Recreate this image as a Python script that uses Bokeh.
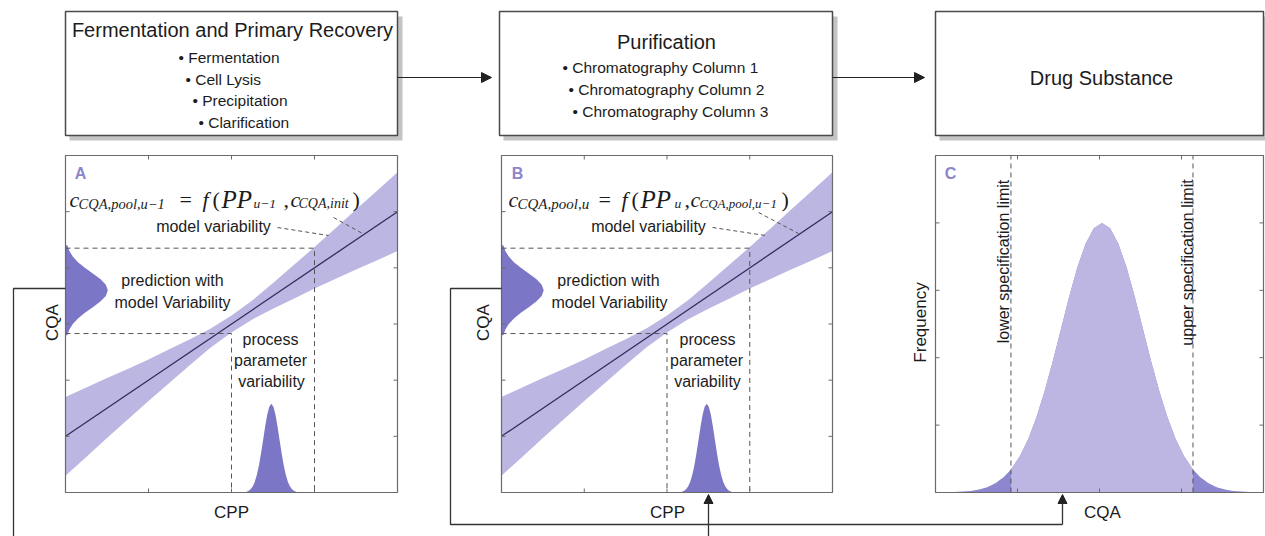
import numpy as np
from bokeh.plotting import figure
from bokeh.models import Range1d, Arrow, NormalHead
from bokeh.core.properties import value
from bokeh.embed import file_html
from bokeh.resources import INLINE

# ---------------- data ----------------
# Panels A and B : CPP (0-4) vs CQA (0-6)
cpp_ticks = [1, 2, 3]
cqa_ticks = [1, 2, 3, 4, 5]
fit_cpp = [0.0, 4.0]
fit_cqa = [1.0, 5.0]
band_cpp = [0, 0.25, 0.5, 0.75, 1.0, 1.25, 1.5, 1.75, 2.0, 2.25, 2.5, 2.75, 3.0, 3.25, 3.5, 3.75, 4.0]
band_upper = [1.70, 1.87, 2.04, 2.20, 2.37, 2.55, 2.73, 2.92, 3.15, 3.42, 3.73, 4.05, 4.37, 4.70, 5.04, 5.37, 5.70]
band_lower = [0.30, 0.63, 0.97, 1.30, 1.63, 1.95, 2.27, 2.58, 2.85, 3.08, 3.27, 3.45, 3.63, 3.80, 3.97, 4.13, 4.30]
guide_cpp = [2.0, 3.0]
guide_cqa = [2.83, 4.35]
pred_cqa = [2.8, 2.9, 3.0, 3.1, 3.2, 3.3, 3.4, 3.5, 3.6, 3.7, 3.8, 3.9, 4.0, 4.1, 4.2, 4.3, 4.4]
pred_density = [0.022, 0.047, 0.088, 0.150, 0.234, 0.329, 0.420, 0.486, 0.51,
                0.486, 0.420, 0.329, 0.234, 0.150, 0.088, 0.047, 0.022]
ppv_cpp = [2.18, 2.205, 2.23, 2.255, 2.28, 2.305, 2.33, 2.355, 2.38, 2.405, 2.43, 2.455, 2.48,
           2.505, 2.53, 2.555, 2.58, 2.605, 2.63, 2.655, 2.68, 2.705, 2.73, 2.755, 2.78]
ppv_density = [0.013, 0.028, 0.057, 0.107, 0.188, 0.310, 0.477, 0.688, 0.928, 1.171, 1.383, 1.528, 1.58,
               1.528, 1.383, 1.171, 0.928, 0.688, 0.477, 0.310, 0.188, 0.107, 0.057, 0.028, 0.013]

# Panel C : CQA (0-4) vs Frequency (0-5)
c_xticks = [1, 2, 3]
c_yticks = [1, 2, 3, 4]
dist_cqa = [0.03, 0.23, 0.43, 0.53, 0.63, 0.73, 0.83, 0.92, 1.03, 1.13, 1.23, 1.33, 1.43, 1.53, 1.63,
            1.73, 1.83, 1.93, 2.03, 2.13, 2.23, 2.33, 2.43, 2.53, 2.63, 2.73, 2.83, 2.93, 3.03, 3.14,
            3.23, 3.33, 3.43, 3.53, 3.63, 3.83, 3.99]
dist_freq = [0.001, 0.006, 0.024, 0.044, 0.079, 0.136, 0.225, 0.340, 0.541, 0.791, 1.112, 1.501, 1.947,
             2.426, 2.905, 3.341, 3.692, 3.921, 4.0, 3.921, 3.692, 3.341, 2.905, 2.426, 1.947, 1.501,
             1.112, 0.791, 0.541, 0.340, 0.225, 0.136, 0.079, 0.044, 0.024, 0.006, 0.001]
spec_limits = [0.92, 3.14]

# ---------------- layout ----------------
W, H = 1265, 536
OX, OY = 0, 0
FONT = value("Liberation Sans")
SERIF = value("Liberation Serif")
TXT = "#1c1c1c"

p = figure(width=W, height=H, x_range=Range1d(OX, OX + W), y_range=Range1d(OY + H, OY),
           output_backend="svg", toolbar_location=None, min_border=0,
           x_axis_location=None, y_axis_location=None)
p.grid.visible = False
p.outline_line_color = None
p.background_fill_color = "white"
p.border_fill_color = "white"

panels = {
    "A": dict(px=(65, 397), py=(155, 492), xr=(0, 4), yr=(0, 6)),
    "B": dict(px=(501, 832), py=(155, 492), xr=(0, 4), yr=(0, 6)),
    "C": dict(px=(935, 1263), py=(155, 492), xr=(0, 4), yr=(0, 5)),
}
exr, eyr = {}, {}
for n, d in panels.items():
    (px0, px1), (pyt, pyb), (x0, x1), (y0, y1) = d["px"], d["py"], d["xr"], d["yr"]
    sx = (x1 - x0) / (px1 - px0)
    sy = (y1 - y0) / (pyb - pyt)
    d["tlx"], d["tly"] = 4 * sx, 4 * sy
    exr[n] = Range1d(x0 + (OX - px0) * sx, x0 + (OX + W - px0) * sx)
    eyr[n] = Range1d(y0 - (OY + H - pyb) * sy, y1 + (pyt - OY) * sy)
p.extra_x_ranges = exr
p.extra_y_ranges = eyr

# ---------------- boxes ----------------
boxes = [(65, 397, 11, 135), (499, 832, 11, 135), (935, 1263, 11, 135)]
for l, r, t, b in boxes:
    p.quad(left=l + 4, right=r + 5, top=t + 5, bottom=b + 5, fill_color="#c4c4c4", line_color=None)
    p.quad(left=l, right=r, top=t, bottom=b, fill_color="white", line_color="#4a4a4a", line_width=1.5)

def txt(x, y, s, size="16px", align="center", baseline="middle", angle=0, font=FONT,
        style="normal", color=TXT):
    p.text(x=x, y=y, text=s, text_font=font, text_font_size=size, text_align=align,
           text_baseline=baseline, angle=angle, text_font_style=style, text_color=color)

txt([232], [29], ["Fermentation and Primary Recovery"], size="20px")
txt([178, 185, 192, 198], [57, 79, 100, 122],
    ["• Fermentation", "• Cell Lysis", "• Precipitation", "• Clarification"], size="15.5px", align="left")
txt([666], [41], ["Purification"], size="20px")
txt([562, 568, 572], [67, 89, 111],
    ["• Chromatography Column 1", "• Chromatography Column 2", "• Chromatography Column 3"],
    size="15.5px", align="left")
txt([1101], [77], ["Drug Substance"], size="20px")

# arrows between boxes
for xs, xe in [(397, 491), (832, 924)]:
    p.add_layout(Arrow(end=NormalHead(size=10, fill_color="#222", line_color="#222"),
                       x_start=xs, y_start=77, x_end=xe, y_end=77, line_color="#222", line_width=1.2))

# ---------------- panels ----------------
BAND = "#bcb6e2"
DARK = "#7c76c6"
LINE = "#2e2e5e"
FRAME = "#6a6a6a"
DASH = "#555555"

def frame_and_ticks(n, xt, yt):
    d = panels[n]
    kw = dict(x_range_name=n, y_range_name=n)
    x0, x1 = d["xr"]; y0, y1 = d["yr"]
    tlx, tly = d["tlx"], d["tly"]
    sx0 = list(xt) * 2 + [x0] * len(yt) + [x1] * len(yt)
    sx1 = list(xt) * 2 + [x0 + tlx] * len(yt) + [x1 - tlx] * len(yt)
    sy0 = [y0] * len(xt) + [y1] * len(xt) + list(yt) * 2
    sy1 = [y0 + tly] * len(xt) + [y1 - tly] * len(xt) + list(yt) * 2
    p.segment(x0=sx0, y0=sy0, x1=sx1, y1=sy1, line_color=FRAME, line_width=1, **kw)
    p.quad(left=x0, right=x1, bottom=y0, top=y1, fill_alpha=0, line_color=FRAME, line_width=1.2, **kw)

for n in ["A", "B"]:
    kw = dict(x_range_name=n, y_range_name=n)
    p.varea(x=band_cpp, y1=band_lower, y2=band_upper, fill_color=BAND, **kw)
    p.line(x=fit_cpp, y=fit_cqa, line_color=LINE, line_width=1.3, **kw)
    p.harea(x1=0, x2=pred_density, y=pred_cqa, fill_color=DARK, **kw)
    p.varea(x=ppv_cpp, y1=0, y2=ppv_density, fill_color=DARK, **kw)
    p.multi_line(xs=[[0, guide_cpp[1], guide_cpp[1]], [0, guide_cpp[0], guide_cpp[0]]],
                 ys=[[guide_cqa[1], guide_cqa[1], 0], [guide_cqa[0], guide_cqa[0], 0]],
                 line_color=DASH, line_dash="5 4", line_width=1, **kw)
    frame_and_ticks(n, cpp_ticks, cqa_ticks)

kw = dict(x_range_name="C", y_range_name="C")
p.varea(x=dist_cqa, y1=0, y2=dist_freq, fill_color="#8d87cf", **kw)
inner = [i for i, v in enumerate(dist_cqa) if spec_limits[0] <= v <= spec_limits[1]]
p.varea(x=[dist_cqa[i] for i in inner], y1=0, y2=[dist_freq[i] for i in inner], fill_color="#bdb6e2", **kw)
p.multi_line(xs=[[spec_limits[0]] * 2, [spec_limits[1]] * 2], ys=[[0, 5], [0, 5]],
             line_color=DASH, line_dash="5 4", line_width=1, **kw)
frame_and_ticks("C", c_xticks, c_yticks)

# ---------------- feedback connectors ----------------
CON = "#333333"
p.line(x=[65, 13, 13], y=[288, 288, 545], line_color=CON, line_width=1.3)
p.line(x=[501, 450, 450, 1062], y=[288, 288, 524, 524], line_color=CON, line_width=1.3)
for xa, ys in [(1062, 524), (708, 545)]:
    p.add_layout(Arrow(end=NormalHead(size=9, fill_color="#222", line_color="#222"),
                       x_start=xa, y_start=ys, x_end=xa, y_end=494, line_color=CON, line_width=1.3))

# ---------------- panel texts ----------------
LAB = "#8c86c9"
txt([80, 517, 950], [173, 173, 173], ["A", "B", "C"], size="16px", style="bold", color=LAB)

# formulas
BIG = "22px"
bx, by = 199, 203
def piece(x, s, size, italic=True, y=None):
    txt([x], [bx if y is None else y], [s], size=size, align="left", baseline="alphabetic",
        font=SERIF, style="italic" if italic else "normal")

# panel A
piece(69, "c", BIG); piece(78, "CQA,pool,u−1", "14.5px", y=by)
piece(179, "=", BIG, italic=False); piece(202, "f", BIG); piece(212, "(", BIG, italic=False)
piece(221, "PP", "25px"); piece(253, "u−1", "13.5px", y=by)
piece(283, ",", BIG, italic=False); piece(290, "c", BIG); piece(298, "CQA,init", "14px", y=by)
piece(352, ")", BIG, italic=False)
# panel B
piece(508, "c", BIG); piece(517, "CQA,pool,u", "15px", y=by)
piece(598, "=", BIG, italic=False); piece(621, "f", BIG); piece(631, "(", BIG, italic=False)
piece(640, "PP", "25px"); piece(674, "u", "13.5px", y=by)
piece(684, ",", BIG, italic=False); piece(690, "c", BIG); piece(699, "CQA,pool,u−1", "13px", y=by)
piece(781, ")", BIG, italic=False)

# leader lines
p.multi_line(xs=[[277, 328], [333, 362], [712, 765], [758, 798]],
             ys=[[227, 235], [217, 233], [227, 235], [212, 233]],
             line_color=DASH, line_dash="4 3", line_width=1)

txt([213, 648], [226, 226], ["model variability", "model variability"])
txt([172, 608], [280, 280], ["prediction with", "prediction with"])
txt([172, 609], [302, 302], ["model Variability", "model Variability"])
txt([270, 270, 271, 707, 706, 707], [339, 360, 381, 339, 360, 381],
    ["process", "parameter", "variability", "process", "parameter", "variability"])

txt([231, 667, 1102], [512, 512, 512], ["CPP", "CPP", "CQA"], size="17px")
txt([52, 483, 920], [322, 322, 322], ["CQA", "CQA", "Frequency"], size="17px", angle=np.pi / 2)
txt([1003, 1187], [261, 262], ["lower specification limit", "upper specification limit"],
    size="16px", angle=np.pi / 2)

open("out.html", "w").write(file_html(p, INLINE))
